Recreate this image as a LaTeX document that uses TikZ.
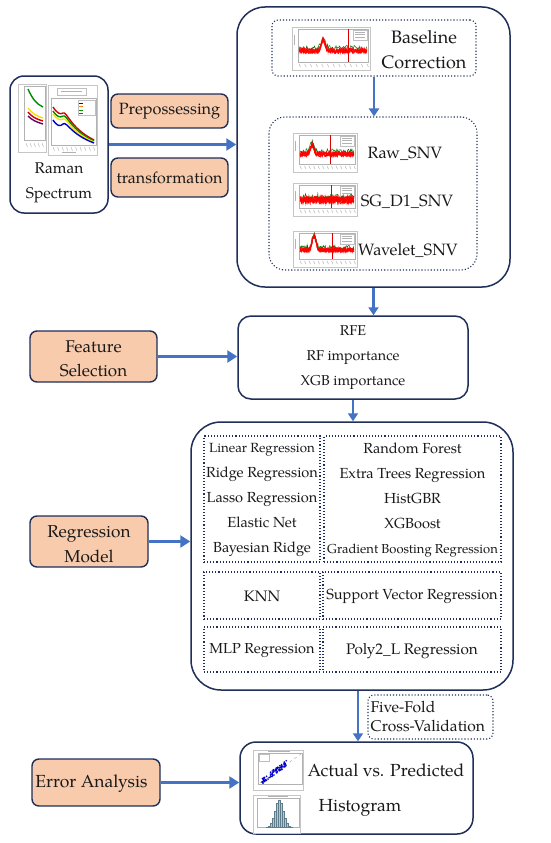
\documentclass[tikz,border=0pt]{standalone}
\usepackage{fontspec}
\setmainfont{TeX Gyre Pagella}
\usetikzlibrary{arrows.meta,calc}
\definecolor{navy}{HTML}{1F2F5A}
\definecolor{peach}{HTML}{F8CBAD}
\definecolor{ablue}{HTML}{4472C4}
\definecolor{histblue}{HTML}{9FCFE6}
\newcommand{\specplot}[8]{%
\begin{scope}[shift={(#1,#2)}]
 \draw[gray!45, line width=0.3pt] (0,0) rectangle (#3,#4);
 \draw[gray!60, line width=0.3pt] (6,2) rectangle ({#3-2},{#4-8});
 \foreach \i in {0,...,12} \draw[gray!55, line width=0.5pt] ({7+\i*(#3-10)/12},{#4-6}) -- ++(1.5,3);
 \draw[gray!60, line width=0.4pt] (2,8) -- (2,18);
 \draw[gray!50, line width=0.3pt, fill=white] ({#3-17},3) rectangle ({#3-3},13);
 \foreach \j in {5,7.5,10} \draw[gray!60, line width=0.3pt] ({#3-15},\j) -- ({#3-5},\j);
 \draw[red!85!black, line width=0.5pt] ({#8*#3},2) -- ({#8*#3},{#4-8});
 \draw[green!45!black, line width=0.5pt] plot[domain=7:{#3-3}, samples=80] (\x, {0.66*(#4-8) - 2 + #5*rand - #7*exp(-((\x-#6*#3)^2)/7)});
 \foreach \s in {1,...,6} \draw[red, line width=0.5pt] plot[domain=7:{#3-3}, samples=90] (\x, {0.68*(#4-8) + #5*rand - #7*exp(-((\x-#6*#3)^2)/7)});
\end{scope}}
\tikzset{
 rbox/.style={draw=navy, line width=1.5pt, fill=white, inner sep=0pt},
 pbox/.style={draw=navy, line width=1.4pt, fill=peach, rounded corners=7pt, inner sep=0pt},
 dbox/.style={draw=navy, line width=1.1pt, dotted, inner sep=0pt},
 flowh/.style={draw=ablue, line width=3.6pt, -{Triangle[length=10pt,width=12pt]}},
 flowv/.style={draw=ablue, line width=2.6pt, -{Triangle[length=8pt,width=10pt]}},
 lbl/.style={inner sep=0pt, align=center, text=black!90},
}
\begin{document}
\begin{tikzpicture}[x=1pt,y=-1pt]
\useasboundingbox (0,0) rectangle (550,843);
\fill[white] (0,0) rectangle (550,843);

% ---------- Raman spectrum ----------
\node[rbox, rounded corners=14pt, minimum width=98pt, minimum height=137pt] (raman) at (59,144.5) {};
% left small plot
\draw[gray!45, line width=0.3pt] (18,84) rectangle (46,152);
\draw[gray!60, line width=0.3pt] (24,86) rectangle (45,140);
\foreach \i in {0,...,4} \draw[gray!55, line width=0.5pt] ({26+\i*4},143) -- ++(1.5,4);
\draw[green!55!black, line width=1.4pt] (28,89) .. controls (32,98) and (36,104) .. (43,107);
\draw[yellow!80!orange, line width=1.4pt] (28,108) .. controls (32,113) and (36,116) .. (43,118);
\draw[red!80!black, line width=1.4pt] (28,112) .. controls (32,117) and (36,119) .. (43,121);
\draw[violet!80!black, line width=1.4pt] (28,116) .. controls (32,120) and (36,122) .. (43,124);
% right small plot
\draw[gray!45, line width=0.3pt, fill=white] (48,85) rectangle (97,155);
\draw[gray!50, line width=0.3pt] (57,88) rectangle (86,95);
\draw[gray!60, line width=0.4pt] (61,91.5) -- (82,91.5);
\draw[gray!60, line width=0.3pt] (51,98) rectangle (96,145);
\foreach \i in {0,...,9} \draw[gray!55, line width=0.5pt] ({53+\i*4.5},147) -- ++(1.5,4);
\draw[gray!60, line width=0.4pt] (62,152) -- (76,152);
\draw[gray!50, line width=0.3pt] (78,100) rectangle (95,115);
\draw[blue, line width=0.5pt] (79,103) -- (83,103);
\draw[orange, line width=0.5pt] (79,106.5) -- (83,106.5);
\draw[green!60!black, line width=0.5pt] (79,110) -- (83,110);
\draw[red, line width=0.5pt] (79,113) -- (83,113);
\draw[red!85!black, line width=1.4pt] (53,107) .. controls (57,113) and (60,115) .. (63,113) .. controls (67,111) and (70,128) .. (94,140);
\draw[green!55!black, line width=1.4pt] (53,111) .. controls (57,117) and (60,118) .. (63,116) .. controls (67,114) and (70,130) .. (94,141);
\draw[yellow!80!orange, line width=1.4pt] (53,114) .. controls (57,119) and (60,121) .. (63,119) .. controls (67,117) and (70,132) .. (94,142);
\draw[blue!80!black, line width=1.4pt] (53,120) .. controls (57,126) and (60,127) .. (63,124) .. controls (67,121) and (70,134) .. (94,143);
\node[lbl, font=\fontsize{15.5}{25}\selectfont] (ramantxt) at (59,182.5) {Raman\\Spectrum};

\node[pbox, minimum width=117pt, minimum height=34pt] (prep) at (169.5,111) {};
\node[lbl, font=\fontsize{16.3}{19}\selectfont] (preptxt) at (169.5,111) {Prepossessing};
\node[pbox, minimum width=117pt, minimum height=39pt] (trans) at (169.5,177.5) {};
\node[lbl, font=\fontsize{16}{19}\selectfont] (transtxt) at (169.5,177.5) {transformation};

% ---------- Preprocessing block ----------
\node[rbox, rounded corners=28pt, minimum width=273pt, minimum height=280pt] (top) at (373.5,147) {};
\node[dbox, rounded corners=6pt, minimum width=204pt, minimum height=56pt] (base) at (374,48) {};
\node[dbox, rounded corners=16pt, minimum width=208pt, minimum height=153pt] (spec) at (373,193.5) {};

\pgfmathsetseed{7}
\specplot{292}{27}{78}{43}{2.8}{0.4}{11}{0.72}
\specplot{293}{133}{64}{39}{2.6}{0.3}{9}{0.58}
\specplot{293}{183}{64}{33}{3.8}{0.5}{0}{0.6}
\specplot{293}{231}{64}{36}{2.4}{0.33}{14}{0.62}

\node[lbl, font=\fontsize{18}{25}\selectfont] (basetxt) at (424,49.5) {Baseline\\Correction};
\node[lbl, font=\fontsize{16.4}{19}\selectfont] (rawtxt) at (405,154) {Raw\_SNV};
\node[lbl, font=\fontsize{16.4}{19}\selectfont] (sgtxt) at (407,202) {SG\_D1\_SNV};
\node[lbl, font=\fontsize{16.4}{19}\selectfont] (wavtxt) at (408,251) {Wavelet\_SNV};

% ---------- Feature selection ----------
\node[rbox, rounded corners=13pt, minimum width=230pt, minimum height=83pt] (rfe) at (353,357.5) {};
\node[lbl, font=\fontsize{14.3}{25}\selectfont] (rfetxt) at (353,358) {RFE\\RF importance\\XGB importance};
\node[pbox, minimum width=127pt, minimum height=51pt] (feat) at (93.5,356.5) {};
\node[lbl, font=\fontsize{17}{24}\selectfont] (feattxt) at (93.5,359) {Feature\\Selection};

% ---------- Regression ----------
\node[rbox, rounded corners=30pt, minimum width=322pt, minimum height=268pt] (reg) at (352,556) {};
\node[pbox, minimum width=118pt, minimum height=51pt] (regm) at (89,541.5) {};
\node[lbl, font=\fontsize{17.2}{25}\selectfont] (regmtxt) at (89,544.5) {Regression\\Model};

\node[dbox, minimum width=116pt, minimum height=126pt] (lt) at (262,499) {};
\node[dbox, minimum width=177pt, minimum height=126pt] (rt) at (412.5,499) {};
\node[dbox, minimum width=116pt, minimum height=47pt] (knn) at (262,595.5) {};
\node[dbox, minimum width=178pt, minimum height=47pt] (svr) at (412,595.5) {};
\node[dbox, minimum width=116pt, minimum height=45pt] (mlp) at (262,649.5) {};
\node[dbox, minimum width=178pt, minimum height=45pt] (poly) at (412,649.5) {};

\node[lbl, font=\fontsize{14.6}{25}\selectfont] (lttxt) at (262,500) {{\fontsize{13.3}{25}\selectfont Linear Regression}\\Ridge Regression\\Lasso Regression\\Elastic Net\\Bayesian Ridge};
\node[lbl, font=\fontsize{14.6}{25}\selectfont] (rttxt) at (412.5,500) {Random Forest\\Extra Trees Regression\\HistGBR\\XGBoost\\{\fontsize{13}{25}\selectfont Gradient Boosting Regression}};
\node[lbl, font=\fontsize{15.2}{19}\selectfont] (knntxt) at (262,596) {KNN};
\node[lbl, font=\fontsize{14.6}{19}\selectfont] (svrtxt) at (412,596) {Support Vector Regression};
\node[lbl, font=\fontsize{14.5}{19}\selectfont] (mlptxt) at (262,651) {MLP Regression};
\node[lbl, font=\fontsize{15.3}{19}\selectfont] (polytxt) at (412,651) {Poly2\_L Regression};

% ---------- Results ----------
\node[dbox, rounded corners=6pt, minimum width=125pt, minimum height=44pt] (cv) at (430.5,717) {};
\node[lbl, align=left, font=\fontsize{15.6}{19}\selectfont, anchor=west] (cvtxt) at (370.5,716.5) {Five-Fold\\Cross-Validation};

\node[rbox, rounded corners=16pt, minimum width=233pt, minimum height=92pt] (res) at (356.5,788) {};
\node[pbox, minimum width=128pt, minimum height=47pt] (err) at (96,782.5) {};
\node[lbl, font=\fontsize{17.5}{19}\selectfont] (errtxt) at (91.5,784) {Error Analysis};

% scatter plot
\draw[gray!45, line width=0.3pt] (253,750) rectangle (303,790);
\draw[gray!60, line width=0.3pt] (258,753) rectangle (302,784);
\draw[gray!50, line width=0.3pt] (259,754) rectangle (269,761);
\draw[gray!60, line width=0.4pt] (268,751.5) -- (290,751.5);
\draw[gray!70, line width=0.4pt, dashed] (260,783) -- (301,754);
\pgfmathsetseed{3}
\foreach \k in {1,...,90} {
  \pgfmathsetmacro{\px}{262+25*rnd}
  \pgfmathsetmacro{\py}{781-0.72*(\px-262)+3*rand}
  \fill[blue!80!black] (\px,\py) circle (0.9pt);
}
% histogram
\draw[gray!45, line width=0.3pt] (253,795) rectangle (300,833);
\draw[gray!60, line width=0.3pt] (257,798) rectangle (299,827);
\draw[gray!60, line width=0.4pt] (268,796.5) -- (288,796.5);
\foreach \b in {0,...,12} {
  \pgfmathsetmacro{\hh}{27*exp(-((\b-6)^2)/8)}
  \draw[fill=histblue, draw=histblue!60!black, line width=0.2pt] ({266+\b*2},827) rectangle ({268+\b*2},{827-\hh});
}

\node[lbl, font=\fontsize{17.5}{19}\selectfont] (acttxt) at (386,770) {Actual vs. Predicted};
\node[lbl, font=\fontsize{17.5}{19}\selectfont] (histtxt) at (360,808) {Histogram};

% ---------- connectors ----------
\draw[flowh] (raman.east) -- (top.west |- raman.east);
\draw[flowv] (base.south) -- (base.south |- spec.north);
\draw[flowv] (top.south) -- (top.south |- rfe.north);
\draw[flowh] (feat.east) -- (feat.east -| rfe.west);
\draw[flowv] (rfe.south) -- (rfe.south |- reg.north);
\draw[flowh] (regm.east) -- (regm.east -| reg.west);
\draw[flowv] ([xshift=6pt]reg.south) -- ([xshift=6pt]reg.south |- res.north);
\draw[flowh] (err.east) -- (err.east -| res.west);
\end{tikzpicture}
\end{document}
